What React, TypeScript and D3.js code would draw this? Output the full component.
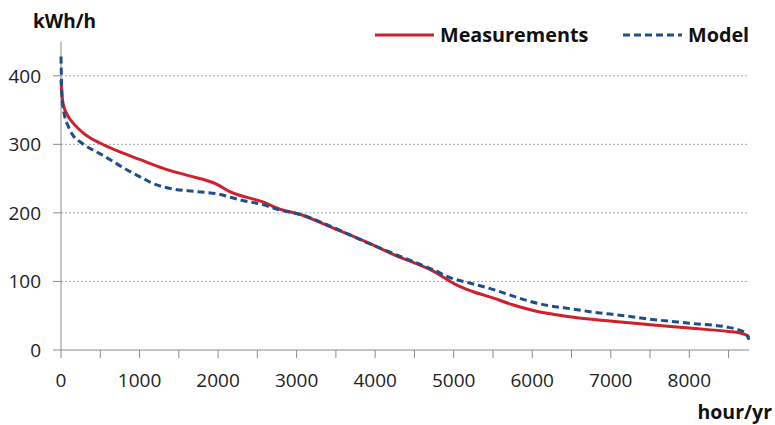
import React from 'react';
import * as d3 from 'd3';

// load duration curve
const measHours = [0, 10, 30, 72, 178, 300, 496, 750, 1000, 1302, 1600, 1981, 2150, 2570, 2800, 3040, 3400, 3900, 4300, 4500, 4740, 4900, 5000, 5250, 5500, 5750, 6000, 6500, 7020, 7500, 8000, 8500, 8640, 8740, 8760];
const measValues = [394, 375, 358, 345, 328, 315, 302, 289, 278, 265, 255, 242, 231, 216, 205, 198, 181, 157, 136, 127, 115, 104, 97, 85, 76, 66, 58, 48, 42, 37, 32, 27, 25, 21, 18];

const modelHours = [0, 5, 15, 40, 93, 153, 250, 370, 500, 650, 790, 900, 1050, 1150, 1300, 1730, 1980, 2280, 2570, 2790, 3040, 3400, 3890, 4310, 4740, 4990, 5160, 5540, 5800, 6000, 6200, 6500, 6860, 7020, 7500, 8000, 8500, 8640, 8720, 8760];
const modelValues = [428, 400, 365, 345, 326, 313, 303, 294, 286, 276, 266, 259, 250, 244, 238, 231, 228, 219, 212, 204, 198, 182, 157, 137, 117, 104, 99, 87, 77, 70, 65, 60, 54, 52, 45, 39, 33, 29, 24, 15];

const xTicks = [0, 1000, 2000, 3000, 4000, 5000, 6000, 7000, 8000];
const xMinorTicks = d3.range(0, 9000, 500);
const yTicks = [0, 100, 200, 300, 400];

const width = 775;
const height = 425;
const font = '"Open Sans", sans-serif';
const red = '#d0202b';
const blue = '#1f4e89';

const App = () => {
  const x = d3.scaleLinear().domain([0, 8760]).range([61, 749]);
  const y = d3.scaleLinear().domain([0, 450]).range([350, 41.5]);

  const line = d3
    .line<[number, number]>()
    .x(d => x(d[0]))
    .y(d => y(d[1]))
    .curve(d3.curveMonotoneX);

  const meas = measHours.map((h, i) => [h, measValues[i]] as [number, number]);
  const model = modelHours.map((h, i) => [h, modelValues[i]] as [number, number]);

  return (
    <svg
      width={width}
      height={height}
      style={{ position: 'absolute', left: 0, top: 0, background: '#fff' }}
      fontFamily={font}
    >
      {/* grid */}
      {yTicks.filter(t => t > 0).map(t => (
        <line key={'g' + t} x1={x(0)} x2={x(8760)} y1={y(t)} y2={y(t)}
          stroke="#a6a6a6" strokeWidth={1} strokeDasharray="2,2" />
      ))}

      {/* axes */}
      <line x1={x(0)} x2={x(0)} y1={y(0)} y2={y(450)} stroke="#8c8c8c" strokeWidth={1} />
      <line x1={x(0)} x2={x(8760)} y1={y(0)} y2={y(0)} stroke="#8c8c8c" strokeWidth={1} />
      {yTicks.map(t => (
        <g key={'y' + t}>
          <line x1={x(0) - 8} x2={x(0)} y1={y(t)} y2={y(t)} stroke="#8c8c8c" />
          <text x={41} y={y(t)} dy="0.36em" textAnchor="end" fontSize={19} fill="#222">{t}</text>
        </g>
      ))}
      {xMinorTicks.map(t => (
        <line key={'xt' + t} x1={x(t)} x2={x(t)} y1={y(0)} y2={y(0) + 8} stroke="#8c8c8c" />
      ))}
      {xTicks.map(t => (
        <text key={'x' + t} x={x(t)} y={387} textAnchor="middle" fontSize={19} fill="#222">{t}</text>
      ))}

      <text x={33} y={28} fontSize={19} fontWeight="bold" fill="#111">kWh/h</text>
      <text x={772} y={419} fontSize={19.5} fontWeight="bold" fill="#111" textAnchor="end">hour/yr</text>

      {/* series */}
      <path d={line(meas) || ''} fill="none" stroke={red} strokeWidth={3} />
      <path d={line(model) || ''} fill="none" stroke={blue} strokeWidth={3} strokeDasharray="7,4" />

      {/* legend */}
      <line x1={375} x2={434} y1={35} y2={35} stroke={red} strokeWidth={3} />
      <text x={440} y={42} fontSize={19.8} fontWeight="bold" fill="#111">Measurements</text>
      <line x1={623} x2={682} y1={35} y2={35} stroke={blue} strokeWidth={3} strokeDasharray="7,4" />
      <text x={688} y={42} fontSize={19.8} fontWeight="bold" fill="#111">Model</text>
    </svg>
  );
};

export default App;
